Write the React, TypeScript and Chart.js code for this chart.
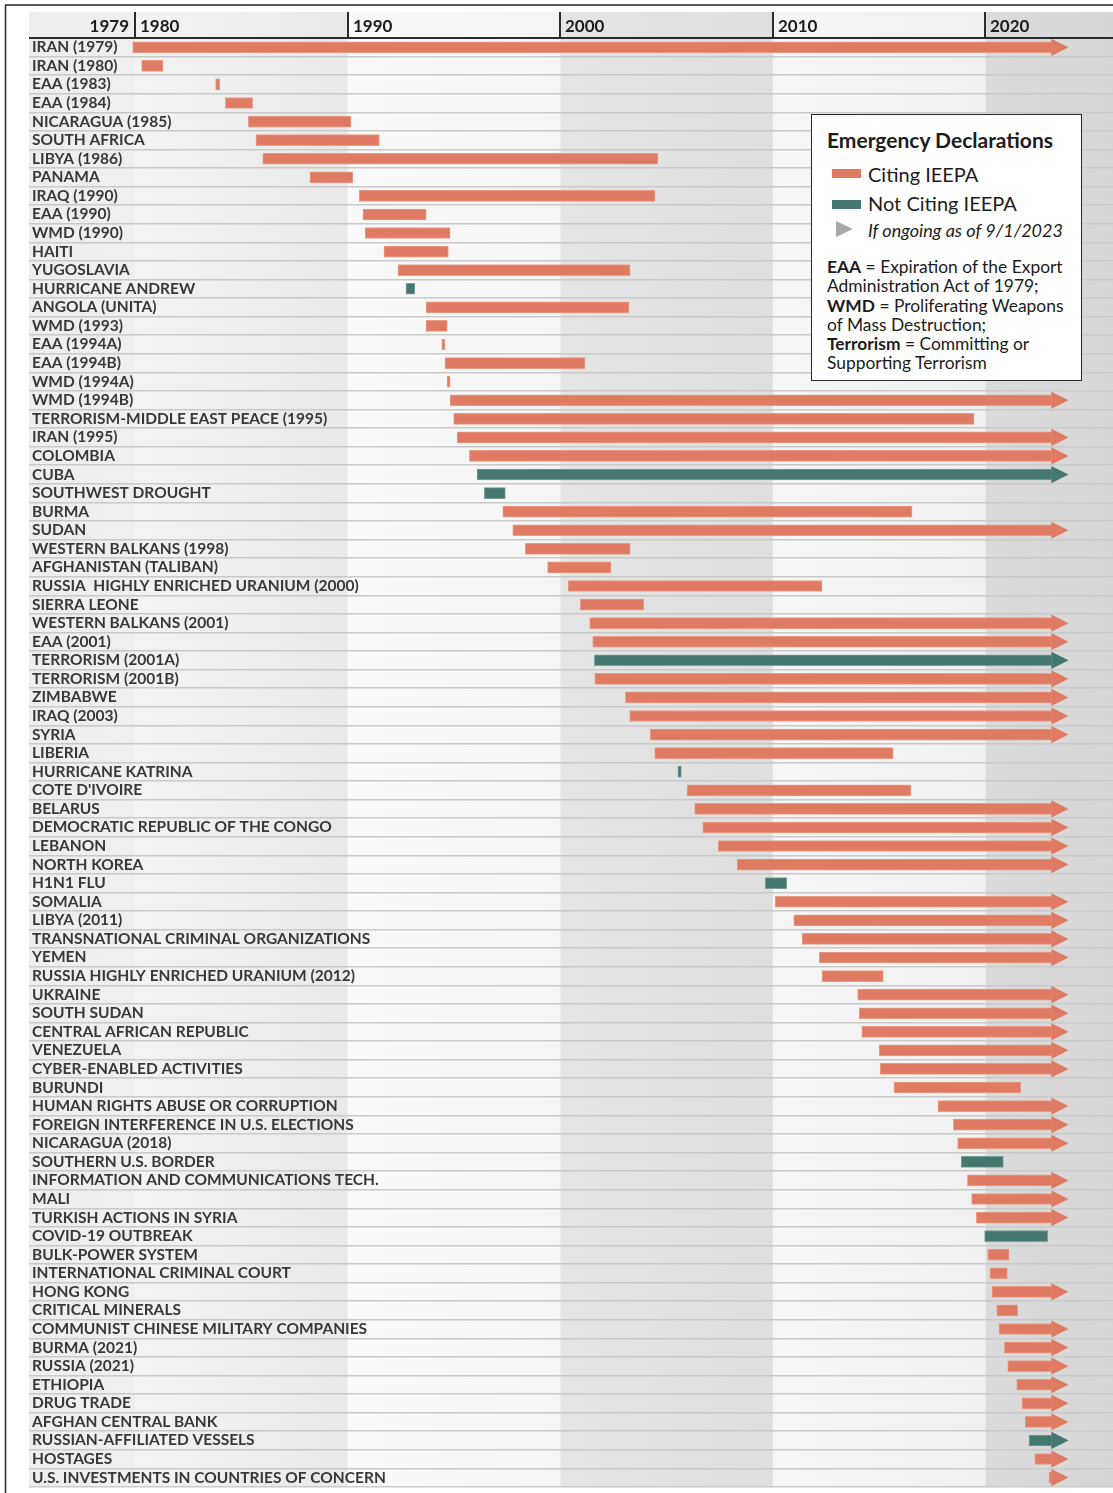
import React, { useEffect, useRef } from 'react';
import { Chart, registerables } from 'chart.js';

Chart.register(...registerables);

// ---------- DATA ----------
const NAMES: string[] = [
  'IRAN (1979)', 'IRAN (1980)', 'EAA (1983)', 'EAA (1984)', 'NICARAGUA (1985)', 'SOUTH AFRICA',
  'LIBYA (1986)', 'PANAMA', 'IRAQ (1990)', 'EAA (1990)', 'WMD (1990)', 'HAITI', 'YUGOSLAVIA',
  'HURRICANE ANDREW', 'ANGOLA (UNITA)', 'WMD (1993)', 'EAA (1994A)', 'EAA (1994B)', 'WMD (1994A)',
  'WMD (1994B)', 'TERRORISM-MIDDLE EAST PEACE (1995)', 'IRAN (1995)', 'COLOMBIA', 'CUBA',
  'SOUTHWEST DROUGHT', 'BURMA', 'SUDAN', 'WESTERN BALKANS (1998)', 'AFGHANISTAN (TALIBAN)',
  'RUSSIA  HIGHLY ENRICHED URANIUM (2000)', 'SIERRA LEONE', 'WESTERN BALKANS (2001)', 'EAA (2001)',
  'TERRORISM (2001A)', 'TERRORISM (2001B)', 'ZIMBABWE', 'IRAQ (2003)', 'SYRIA', 'LIBERIA',
  'HURRICANE KATRINA', "COTE D'IVOIRE", 'BELARUS', 'DEMOCRATIC REPUBLIC OF THE CONGO', 'LEBANON',
  'NORTH KOREA', 'H1N1 FLU', 'SOMALIA', 'LIBYA (2011)', 'TRANSNATIONAL CRIMINAL ORGANIZATIONS',
  'YEMEN', 'RUSSIA HIGHLY ENRICHED URANIUM (2012)', 'UKRAINE', 'SOUTH SUDAN',
  'CENTRAL AFRICAN REPUBLIC', 'VENEZUELA', 'CYBER-ENABLED ACTIVITIES', 'BURUNDI',
  'HUMAN RIGHTS ABUSE OR CORRUPTION', 'FOREIGN INTERFERENCE IN U.S. ELECTIONS', 'NICARAGUA (2018)',
  'SOUTHERN U.S. BORDER', 'INFORMATION AND COMMUNICATIONS TECH.', 'MALI', 'TURKISH ACTIONS IN SYRIA',
  'COVID-19 OUTBREAK', 'BULK-POWER SYSTEM', 'INTERNATIONAL CRIMINAL COURT', 'HONG KONG',
  'CRITICAL MINERALS', 'COMMUNIST CHINESE MILITARY COMPANIES', 'BURMA (2021)', 'RUSSIA (2021)',
  'ETHIOPIA', 'DRUG TRADE', 'AFGHAN CENTRAL BANK', 'RUSSIAN-AFFILIATED VESSELS', 'HOSTAGES',
  'U.S. INVESTMENTS IN COUNTRIES OF CONCERN',
];

// start of each declaration (decimal year)
const START: number[] = [
  1979.88, 1980.30, 1983.78, 1984.24, 1985.32, 1985.68, 1986.00, 1988.22, 1990.54, 1990.71,
  1990.82, 1991.70, 1992.36, 1992.74, 1993.68, 1993.68, 1994.42, 1994.57, 1994.67, 1994.81,
  1994.98, 1995.14, 1995.72, 1996.08, 1996.42, 1997.29, 1997.76, 1998.35, 1999.40, 2000.37,
  2000.94, 2001.38, 2001.52, 2001.60, 2001.62, 2003.06, 2003.26, 2004.23, 2004.44, 2005.53,
  2005.96, 2006.32, 2006.70, 2007.43, 2008.32, 2009.64, 2010.11, 2010.98, 2011.38, 2012.18,
  2012.31, 2013.99, 2014.06, 2014.18, 2015.00, 2015.05, 2015.70, 2017.77, 2018.49, 2018.69,
  2018.86, 2019.15, 2019.35, 2019.57, 2019.96, 2020.11, 2020.21, 2020.31, 2020.53, 2020.64,
  2020.89, 2021.05, 2021.47, 2021.72, 2021.87, 2022.05, 2022.32, 2022.99,
];

// end of each declaration (decimal year); null = ongoing as of 9/1/2023
const END: (number | null)[] = [
  null, 1981.30, 1983.97, 1985.52, 1990.15, 1991.48, 2004.59, 1990.23, 2004.45, 1993.69,
  1994.81, 1994.73, 2003.28, 1993.15, 2003.23, 1994.68, 1994.57, 2001.16, 1994.81, null,
  2019.46, null, null, null, 1997.41, 2016.54, null, 2003.29, 2002.38, 2012.31,
  2003.92, null, null, null, null, null, null, null, 2015.66, 2005.69,
  2016.50, null, null, null, null, 2010.65, null, null, null, null,
  2015.19, null, null, null, null, null, 2021.66, null, null, null,
  2020.84, null, null, null, 2022.93, 2021.11, 2021.03, null, 2021.52, null,
  null, null, null, null, null, null, null, null,
];

// 'I' = citing IEEPA, 'N' = not citing IEEPA
const TYPE: string[] = [
  'I', 'I', 'I', 'I', 'I', 'I', 'I', 'I', 'I', 'I', 'I', 'I', 'I', 'N', 'I', 'I', 'I', 'I', 'I', 'I',
  'I', 'I', 'I', 'N', 'N', 'I', 'I', 'I', 'I', 'I', 'I', 'I', 'I', 'N', 'I', 'I', 'I', 'I', 'I', 'N',
  'I', 'I', 'I', 'I', 'I', 'N', 'I', 'I', 'I', 'I', 'I', 'I', 'I', 'I', 'I', 'I', 'I', 'I', 'I', 'I',
  'N', 'I', 'I', 'I', 'N', 'I', 'I', 'I', 'I', 'I', 'I', 'I', 'I', 'I', 'I', 'N', 'I', 'I',
];

const ONGOING_BODY_END = 2023.12; // where the shaft of an ongoing arrow stops
const ONGOING_TIP = 2023.91;      // arrow tip
const X_MIN = 1975;
const X_MAX = 2026;
const TICK_YEARS: number[] = [1980, 1990, 2000, 2010, 2020];
const FIRST_TICK_LABEL = '1979';

// ---------- STYLE ----------
const COLOR_I = '#e07b63';
const COLOR_N = '#44776f';
const BORDER_I = '#ea9a87';
const BORDER_N = '#77a099';
const HEADER_TOP = 12;
const BANDS: [number, number, string, string][] = [
  [1975, 1980, '#eeeeee', '#efefef'],
  [1980, 1990, '#f3f3f3', '#e9e9e9'],
  [1990, 2000, '#f9f9f9', '#f5f5f5'],
  [2000, 2010, '#e5e5e5', '#dfdfdf'],
  [2010, 2020, '#f6f6f6', '#f0f0f0'],
  [2020, 2026, '#dbdbdb', '#d6d6d6'],
];

const bandsPlugin = {
  id: 'bands',
  beforeDraw(chart: any) {
    const { ctx, chartArea, scales } = chart;
    const x = scales.x;
    ctx.save();
    ctx.fillStyle = '#ffffff';
    ctx.fillRect(0, 0, chart.width, chart.height);
    BANDS.forEach(([a, b, c1, c2]) => {
      const xa = x.getPixelForValue(a);
      const xb = x.getPixelForValue(b);
      const g = ctx.createLinearGradient(xa, 0, xb, 0);
      g.addColorStop(0, c1);
      g.addColorStop(1, c2);
      ctx.fillStyle = g;
      ctx.fillRect(xa, HEADER_TOP, xb - xa, chartArea.bottom - HEADER_TOP);
    });
    ctx.restore();
  },
};

const arrowPlugin = {
  id: 'arrows',
  afterDatasetsDraw(chart: any) {
    const { ctx, scales } = chart;
    const x = scales.x;
    const meta = chart.getDatasetMeta(0);
    const xb = x.getPixelForValue(ONGOING_BODY_END);
    const xt = x.getPixelForValue(ONGOING_TIP);
    ctx.save();
    END.forEach((e, i) => {
      if (e !== null) return;
      const el = meta.data[i];
      const y = el.y;
      ctx.fillStyle = TYPE[i] === 'N' ? COLOR_N : COLOR_I;
      ctx.beginPath();
      ctx.moveTo(xb - 0.5, y - 8.6);
      ctx.lineTo(xt, y);
      ctx.lineTo(xb - 0.5, y + 8.6);
      ctx.closePath();
      ctx.fill();
    });
    ctx.restore();
  },
};

const headerPlugin = {
  id: 'header',
  afterDraw(chart: any) {
    const { ctx, chartArea, scales } = chart;
    const x = scales.x;
    ctx.save();
    // outer frame
    ctx.strokeStyle = '#262626';
    ctx.lineWidth = 1.5;
    ctx.beginPath();
    ctx.moveTo(5, 5);
    ctx.lineTo(chart.width, 5);
    ctx.moveTo(5.5, 5);
    ctx.lineTo(5.5, chart.height);
    ctx.stroke();
    // axis line
    ctx.strokeStyle = '#2b2b2b';
    ctx.lineWidth = 2;
    ctx.beginPath();
    ctx.moveTo(chartArea.left, chartArea.top);
    ctx.lineTo(chartArea.right, chartArea.top);
    ctx.stroke();
    // ticks + labels
    ctx.fillStyle = '#1c1c1c';
    ctx.font = 'bold 17px Lato, sans-serif';
    ctx.textBaseline = 'alphabetic';
    TICK_YEARS.forEach((yr) => {
      const px = Math.round(x.getPixelForValue(yr));
      ctx.beginPath();
      ctx.moveTo(px, HEADER_TOP);
      ctx.lineTo(px, chartArea.top);
      ctx.stroke();
      ctx.textAlign = 'left';
      ctx.fillText(String(yr), px + 5, 32);
    });
    ctx.textAlign = 'right';
    ctx.fillText(FIRST_TICK_LABEL, Math.round(x.getPixelForValue(TICK_YEARS[0])) - 6, 32);
    ctx.restore();
  },
};

function Legend() {
  const text: React.CSSProperties = { position: 'absolute', whiteSpace: 'nowrap' };
  return (
    <div
      style={{
        position: 'absolute', left: 811, top: 114, width: 271, height: 267, boxSizing: 'border-box',
        border: '1.5px solid #2a2a2a', background: '#ffffff', color: '#1c1c1c',
        fontFamily: 'Lato, sans-serif',
      }}
    >
      <div style={{ ...text, left: 15, top: 13.6, fontSize: 21, lineHeight: '21px', fontWeight: 700 }}>
        Emergency Declarations
      </div>
      <div style={{ position: 'absolute', left: 19.5, top: 53.5, width: 29, height: 9, background: COLOR_I }} />
      <div style={{ ...text, left: 56, top: 48.8, fontSize: 20, lineHeight: '20px' }}>Citing IEEPA</div>
      <div style={{ position: 'absolute', left: 19.5, top: 84.5, width: 29, height: 9, background: COLOR_N }} />
      <div style={{ ...text, left: 56, top: 77.8, fontSize: 20, lineHeight: '20px' }}>Not Citing IEEPA</div>
      <div
        style={{
          position: 'absolute', left: 23.5, top: 106.2, width: 0, height: 0,
          borderTop: '8.3px solid transparent', borderBottom: '8.3px solid transparent',
          borderLeft: '17px solid #a9a9a9',
        }}
      />
      <div style={{ ...text, left: 56, top: 105.5, fontSize: 18, lineHeight: '18px', fontStyle: 'italic' }}>
        If ongoing as of 9/1/2023
      </div>
      <div style={{ ...text, left: 15, top: 142.1, fontSize: 17.4, lineHeight: '19.2px' }}>
        <b>EAA</b> = Expiration of the Export<br />
        Administration Act of 1979;<br />
        <b>WMD</b> = Proliferating Weapons<br />
        of Mass Destruction;<br />
        <b>Terrorism</b> = Committing or<br />
        Supporting Terrorism
      </div>
    </div>
  );
}

export default function App() {
  const ref = useRef<HTMLCanvasElement>(null);
  useEffect(() => {
    const data = NAMES.map((_, i) => [START[i], END[i] === null ? ONGOING_BODY_END : (END[i] as number)]);
    const chart = new Chart(ref.current as HTMLCanvasElement, {
      type: 'bar',
      data: {
        labels: NAMES,
        datasets: [
          {
            data: data as any,
            backgroundColor: TYPE.map((t) => (t === 'N' ? COLOR_N : COLOR_I)),
            borderColor: TYPE.map((t) => (t === 'N' ? BORDER_N : BORDER_I)),
            borderWidth: 1,
            borderSkipped: false,
            barThickness: 11,
          },
        ],
      },
      options: {
        indexAxis: 'y',
        animation: false,
        responsive: false,
        devicePixelRatio: 1,
        layout: { padding: { left: 23, right: 0, top: 38, bottom: 6 } },
        plugins: { legend: { display: false }, tooltip: { enabled: false } },
        scales: {
          x: { type: 'linear', min: X_MIN, max: X_MAX, display: false },
          y: {
            type: 'category',
            grid: { offset: true, color: '#c9c9c9', lineWidth: 1.5, drawTicks: false },
            border: { display: false },
            ticks: {
              mirror: true,
              padding: 3,
              autoSkip: false,
              color: '#383838',
              font: { family: 'Lato', weight: 'bold', size: 15.5, lineHeight: 0.4 },
            },
          },
        },
      },
      plugins: [bandsPlugin, arrowPlugin, headerPlugin],
    } as any);
    return () => chart.destroy();
  }, []);
  return (
    <div style={{ position: 'absolute', left: 0, top: 0, width: 1113, height: 1493, background: '#ffffff' }}>
      <canvas ref={ref} width={1113} height={1493} style={{ display: 'block', width: 1113, height: 1493 }} />
      <Legend />
    </div>
  );
}
